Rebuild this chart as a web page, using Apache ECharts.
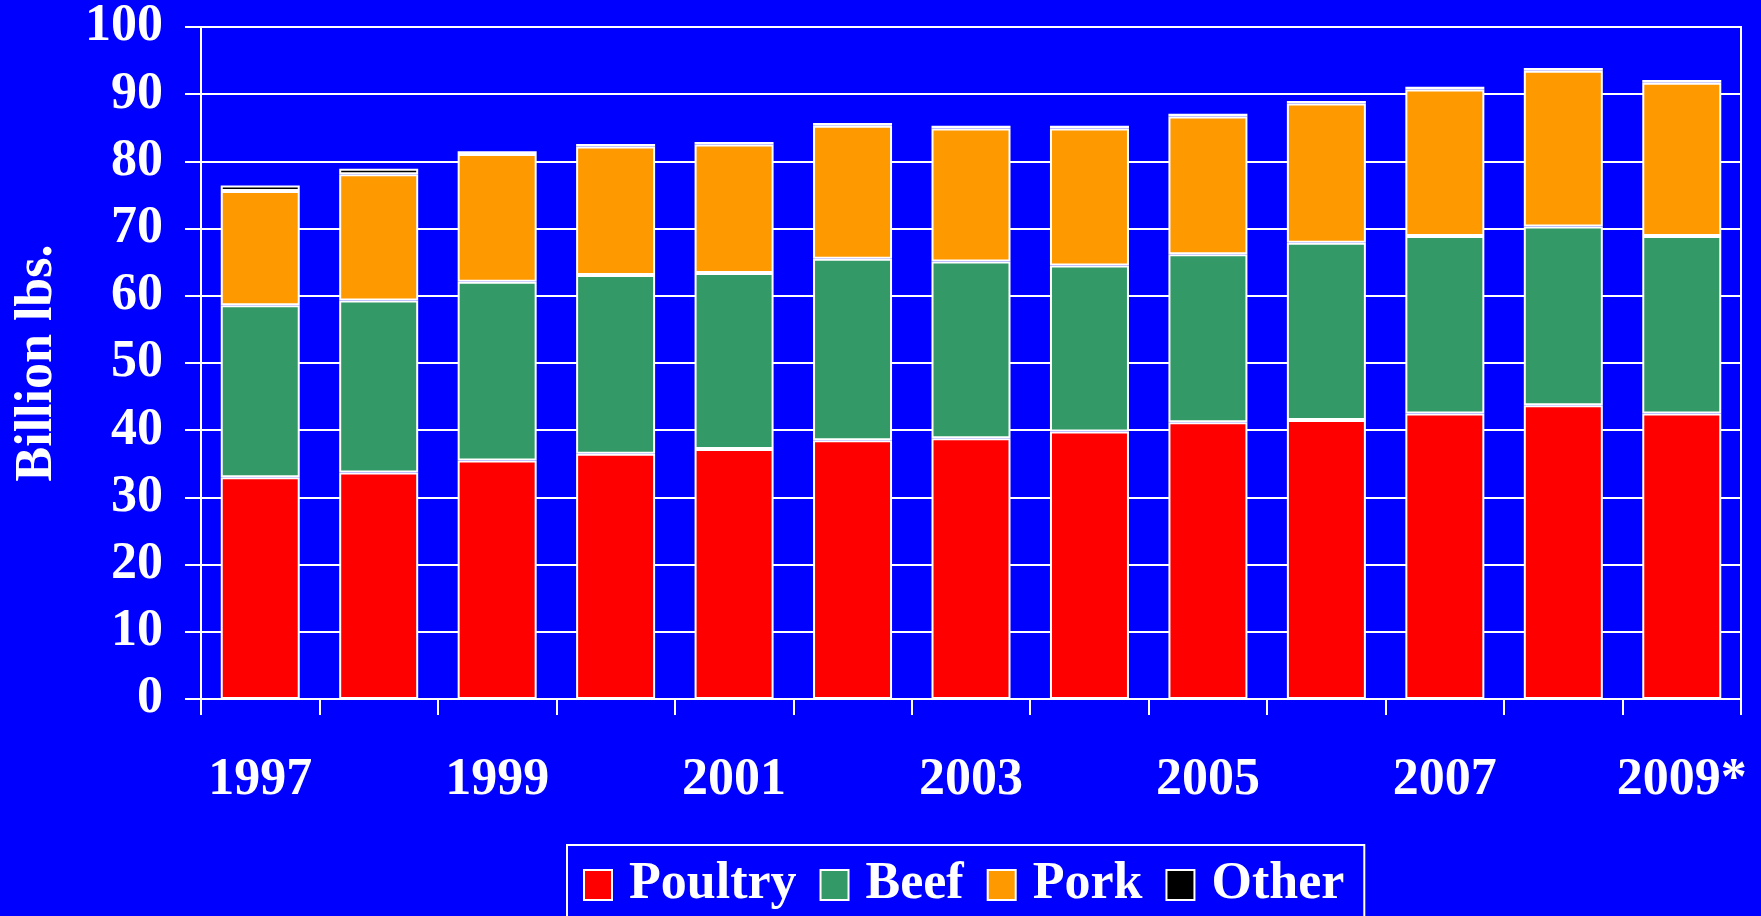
<!DOCTYPE html>
<html>
<head>
<meta charset="utf-8">
<style>
  html, body { margin: 0; padding: 0; background: #0000ff; }
  #chart { width: 1761px; height: 916px; }
</style>
<script src="https://cdn.jsdelivr.net/npm/echarts@6/dist/echarts.min.js"></script>
</head>
<body>
<div id="chart"></div>
<script>
// years on the x axis, 2009 is a forecast
var years = ['1997', '1998', '1999', '2000', '2001', '2002', '2003', '2004', '2005', '2006', '2007', '2008', '2009*'];

// billion lbs
var poultry = [33.0, 33.7, 35.5, 36.5, 37.2, 38.5, 38.8, 39.8, 41.2, 41.5, 42.5, 43.7, 42.5];
var beef = [25.6, 25.6, 26.6, 26.6, 26.2, 27.0, 26.3, 24.7, 25.0, 26.4, 26.4, 26.6, 26.4];
var pork = [17.0, 18.8, 19.0, 19.1, 19.1, 19.8, 19.8, 20.4, 20.5, 20.7, 21.8, 23.2, 22.8];
var other = [0.8, 0.8, 0.4, 0.4, 0.4, 0.4, 0.4, 0.4, 0.4, 0.4, 0.4, 0.4, 0.4];

var font = "'Liberation Serif', 'Times New Roman', serif";

var makeSeries = function(name, data, color) {
	return {
		name: name,
		type: 'bar',
		stack: 'total',
		barWidth: 79,
		data: data,
		itemStyle: {
			color: color,
			borderColor: '#ffffff',
			borderWidth: 2
		}
	};
};

var option = {
	backgroundColor: '#0000ff',
	animation: false,
	grid: {
		left: 201,
		right: 20,
		top: 27,
		bottom: 217,
		outerBoundsMode: 'none',
		containLabel: false,
		show: true,
		borderColor: '#ffffff',
		borderWidth: 2
	},
	legend: {
		left: 567,
		top: 845,
		padding: [14, 20, 30, 16],
		itemGap: 23,
		itemWidth: 28,
		itemHeight: 30,
		icon: 'rect',
		borderColor: '#ffffff',
		borderWidth: 2,
		textStyle: {
			color: '#ffffff',
			fontFamily: font,
			fontWeight: 'bold',
			fontSize: 52,
			padding: [0, 0, 0, 12]
		},
		data: ['Poultry', 'Beef', 'Pork', 'Other']
	},
	xAxis: {
		type: 'category',
		data: years,
		axisLine: { lineStyle: { color: '#ffffff', width: 2 } },
		axisTick: { show: true, length: 16, interval: 0, lineStyle: { color: '#ffffff', width: 2 } },
		axisLabel: {
			interval: 1,
			margin: 56,
			color: '#ffffff',
			fontFamily: font,
			fontWeight: 'bold',
			fontSize: 52
		}
	},
	yAxis: {
		type: 'value',
		min: 0,
		max: 100,
		interval: 10,
		name: 'Billion lbs.',
		nameLocation: 'middle',
		nameGap: 137,
		nameTextStyle: {
			color: '#ffffff',
			fontFamily: font,
			fontWeight: 'bold',
			fontSize: 52
		},
		axisLine: { show: true, lineStyle: { color: '#ffffff', width: 2 } },
		axisTick: { show: true, length: 16, lineStyle: { color: '#ffffff', width: 2 } },
		splitLine: { lineStyle: { color: '#ffffff', width: 2 } },
		axisLabel: {
			margin: 38,
			color: '#ffffff',
			fontFamily: font,
			fontWeight: 'bold',
			fontSize: 52
		}
	},
	series: [
		makeSeries('Poultry', poultry, '#ff0000'),
		makeSeries('Beef', beef, '#339966'),
		makeSeries('Pork', pork, '#ff9900'),
		makeSeries('Other', other, '#000000')
	]
};

var myChart = echarts.init(document.getElementById('chart'));
myChart.setOption(option);
</script>
</body>
</html>
